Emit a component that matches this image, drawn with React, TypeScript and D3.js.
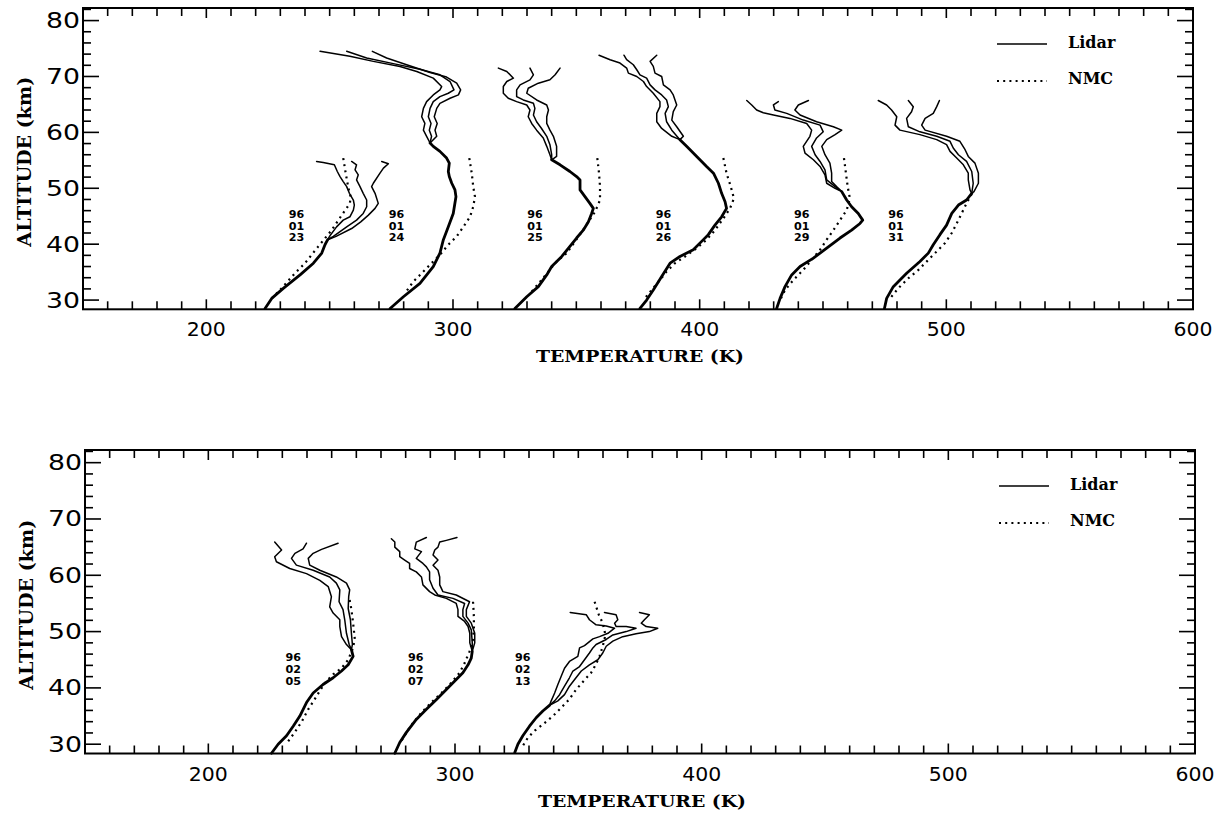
import React from 'react';
import * as d3 from 'd3';

type P = [number, number];

// ---------- axis ticks ----------
const xTickLabels = [200, 300, 400, 500, 600];
const yTickLabels = [30, 40, 50, 60, 70, 80];
const legendNames = ['Lidar', 'NMC'];

// ---------- top panel : 96/01/23 ----------
const low0123: P[] = [[223.8,28.5],[226.5,30.3],[231.2,32.1],[238.0,34.5],[243.4,36.6],[246.8,38.4],[248.1,39.9],[249.2,40.8]];
const left0123: P[] = [[250.4,41.7],[252.8,43.1],[255.5,44.3],[258.2,44.9],[259.6,46.1],[260.0,47.0],[259.6,47.9],[258.0,49.1],[256.9,50.3],[255.5,51.2],[254.2,52.1],[253.1,53.0],[251.9,54.2],[247.4,54.6],[244.7,54.8]];
const mid0123: P[] = [[251.5,41.4],[256.9,43.1],[260.9,44.3],[263.6,45.5],[265.0,46.7],[265.0,47.9],[263.6,49.1],[262.3,50.3],[260.9,51.5],[261.6,52.4],[260.3,53.3],[260.9,54.2],[258.9,54.8]];
const right0123: P[] = [[252.6,41.4],[258.9,42.8],[262.6,44.0],[265.7,45.2],[268.4,46.4],[269.7,47.3],[268.4,49.1],[267.0,50.3],[267.7,50.9],[270.4,52.7],[271.8,53.6],[273.8,54.4],[271.1,54.8]];
const nmc0123: P[] = [[255.5,55.4],[256.5,52.7],[257.6,50.0],[258.5,48.5],[258.2,47.3],[254.9,45.2],[250.8,42.5],[245.4,39.6],[240.0,36.6],[235.9,34.8],[230.5,32.1],[226.5,30.3]];

// 96/01/24
const low0124: P[] = [[274.5,28.5],[279.9,30.6],[286.6,33.0],[292.0,36.0],[294.7,38.4],[296.1,40.8],[298.1,43.1],[300.1,45.5],[301.2,48.5],[300.8,49.7],[299.5,50.9],[298.5,52.1],[298.1,53.0],[298.5,54.5],[297.4,55.4],[294.7,56.6],[292.0,57.5],[290.7,58.1]];
const left0124: P[] = [[289.3,59.3],[288.0,60.4],[288.6,61.6],[287.3,62.8],[288.0,64.3],[289.3,65.5],[292.0,66.7],[294.7,67.6],[295.4,68.2],[292.0,69.7],[285.3,70.9],[278.5,71.8],[267.7,72.7],[258.2,73.6],[246.1,74.5]];
const mid0124: P[] = [[291.3,59.3],[290.4,60.4],[291.1,61.6],[290.0,62.8],[290.7,64.3],[292.0,65.5],[294.7,66.4],[298.1,67.0],[300.4,67.6],[298.8,69.1],[294.7,70.3],[286.6,71.3],[275.8,72.3],[265.0,73.3],[256.9,74.5]];
const right0124: P[] = [[293.4,59.3],[292.7,60.4],[293.6,61.6],[292.4,62.8],[293.4,64.3],[294.7,65.2],[298.8,66.1],[302.2,66.7],[303.1,67.6],[301.5,68.8],[297.4,69.9],[290.7,70.7],[281.2,72.1],[273.1,73.3],[267.3,74.5]];
const nmc0124: P[] = [[306.6,55.4],[307.6,52.7],[308.2,50.3],[308.9,48.5],[308.2,46.7],[306.9,44.9],[304.2,43.1],[301.5,41.4],[298.1,39.9],[294.7,38.1],[291.3,36.6],[287.3,34.8],[283.9,33.3],[280.5,31.2]];

// 96/01/25
const low0125: P[] = [[325.1,28.5],[329.9,30.6],[334.6,32.4],[338.0,34.5],[340.0,36.0],[344.1,37.8],[347.4,39.6],[350.1,41.1],[352.8,42.5],[354.9,44.0],[356.2,45.5],[356.9,46.4],[355.5,47.3],[353.5,48.5],[351.5,49.7],[351.5,51.5],[350.1,52.1],[347.4,53.0],[343.4,54.2],[340.0,55.1]];
const left0125: P[] = [[339.3,56.0],[338.0,57.5],[336.6,59.0],[333.9,60.4],[331.9,61.6],[330.5,62.8],[331.2,64.0],[329.9,64.9],[325.8,65.5],[322.4,66.1],[320.4,67.0],[320.4,68.2],[321.8,69.1],[324.5,69.7],[321.8,70.9],[318.4,71.5]];
const mid0125: P[] = [[340.0,56.0],[339.3,57.8],[338.0,59.3],[335.9,60.7],[333.9,61.9],[332.6,63.1],[333.2,64.3],[332.6,65.2],[328.5,65.8],[325.8,66.4],[325.8,67.6],[327.2,68.5],[331.2,69.4],[332.6,70.3],[331.2,71.5]];
const right0125: P[] = [[342.0,55.7],[342.0,57.5],[340.7,59.3],[339.3,60.4],[338.0,61.6],[338.0,62.8],[338.7,64.0],[338.0,64.9],[333.9,65.8],[329.9,67.0],[330.5,67.9],[334.6,68.8],[339.3,69.4],[341.4,70.3],[343.4,71.5]];
const nmc0125: P[] = [[358.5,55.4],[359.2,52.7],[359.6,50.3],[359.6,47.9],[357.6,45.8],[354.9,44.0],[352.2,42.2],[349.5,40.5],[346.1,38.4],[342.0,36.9],[338.7,35.1],[335.3,33.3],[331.9,31.5]];

// 96/01/26
const low0126: P[] = [[375.8,28.5],[378.5,30.0],[381.2,31.8],[384.6,34.2],[388.0,36.6],[392.0,37.8],[397.4,39.0],[400.8,40.5],[403.5,41.7],[406.2,43.4],[408.9,44.9],[410.9,46.4],[410.3,47.6],[408.9,49.1],[407.6,50.9],[405.6,52.7],[402.8,53.9],[398.8,55.7],[394.7,57.5],[392.0,58.7]];
const left0126: P[] = [[388.7,59.3],[384.6,60.7],[382.6,61.9],[382.6,63.4],[383.9,64.6],[383.9,65.5],[381.2,67.0],[378.5,68.2],[377.2,69.1],[374.5,70.0],[371.1,70.6],[370.4,71.5],[367.7,72.4],[363.7,73.0],[359.2,73.8]];
const mid0126: P[] = [[388.7,60.4],[386.6,61.9],[386.0,63.4],[387.3,64.6],[386.6,65.8],[384.6,66.7],[381.9,67.6],[379.9,68.5],[378.5,69.7],[375.8,70.3],[374.5,71.2],[373.1,72.1],[370.4,73.0],[369.3,73.8]];
const right0126: P[] = [[393.4,59.3],[390.7,61.0],[388.7,62.2],[389.3,63.7],[390.7,64.9],[389.3,66.7],[388.0,67.6],[385.3,68.5],[384.6,70.0],[381.9,70.6],[381.2,71.8],[379.9,72.7],[382.6,73.8]];
const nmc0126: P[] = [[409.6,55.4],[410.9,52.7],[412.6,50.3],[413.9,48.2],[412.3,46.4],[409.6,44.6],[406.2,42.5],[402.8,40.8],[398.8,39.3],[394.1,37.8],[390.0,36.6],[386.6,35.1],[383.9,33.6],[380.5,31.8],[377.2,30.0]];

// 96/01/29
const low0129: P[] = [[431.2,28.5],[432.6,30.3],[434.6,32.4],[437.3,34.5],[440.7,36.0],[446.1,37.5],[451.5,39.3],[456.9,41.1],[461.6,42.5],[465.0,43.7],[466.1,44.3],[464.3,45.5],[461.6,46.7],[459.6,47.9],[457.6,49.4]];
const left0129: P[] = [[454.9,50.0],[451.5,50.9],[450.8,52.4],[448.8,53.9],[446.1,55.1],[442.7,56.3],[442.0,57.5],[444.7,59.3],[445.4,60.4],[443.4,61.6],[436.6,62.5],[429.9,63.1],[425.8,63.5],[423.1,64.0],[421.1,64.9],[419.1,65.7]];
const mid0129: P[] = [[454.9,50.3],[451.5,51.5],[450.8,53.3],[448.8,54.8],[446.8,56.0],[445.4,57.5],[447.4,59.0],[450.1,60.1],[448.8,61.3],[442.0,62.2],[435.3,63.4],[430.5,64.0],[429.9,64.9],[431.9,65.5]];
const right0129: P[] = [[455.5,50.3],[453.5,51.2],[453.5,52.7],[452.8,54.5],[450.8,56.0],[449.5,57.5],[451.5,58.7],[454.9,59.6],[457.6,60.4],[454.2,61.0],[447.4,61.9],[440.7,63.1],[438.6,64.0],[440.0,64.9],[444.1,65.7]];
const nmc0129: P[] = [[458.5,55.4],[459.3,52.7],[460.0,50.3],[460.9,48.2],[459.6,46.1],[456.9,44.3],[454.2,42.5],[451.5,40.8],[448.8,39.0],[445.4,37.2],[442.0,35.4],[438.0,33.6],[434.6,31.8],[432.6,30.0]];

// 96/01/31
const low0131: P[] = [[474.9,28.5],[475.8,30.3],[478.5,32.4],[483.9,34.8],[489.3,36.9],[492.7,38.4],[494.7,39.9],[497.4,41.7],[500.1,43.4],[502.2,45.5],[504.9,47.0],[508.2,47.9],[510.3,49.1]];
const left0131: P[] = [[509.6,49.7],[508.9,51.5],[508.9,52.7],[506.9,54.2],[504.2,55.4],[501.5,56.6],[500.1,57.8],[496.1,58.7],[489.3,59.6],[481.2,60.4],[479.2,61.3],[479.9,62.8],[477.8,64.0],[475.8,64.9],[472.4,65.7]];
const mid0131: P[] = [[510.9,50.9],[510.3,53.0],[508.2,54.8],[504.9,56.0],[502.8,57.2],[501.5,58.4],[496.1,59.3],[489.3,60.1],[484.6,61.0],[483.9,62.5],[485.9,63.7],[486.6,64.6],[484.6,65.7]];
const right0131: P[] = [[511.2,49.4],[513.0,50.9],[513.0,52.7],[511.6,54.5],[508.9,55.7],[507.6,56.9],[505.5,58.4],[500.1,59.3],[491.4,60.4],[490.0,61.3],[491.4,62.5],[494.7,63.4],[496.1,64.6],[497.2,65.7]];
const nmc0131: P[] = [[510.3,49.0],[508.2,47.3],[506.2,45.5],[504.2,43.7],[502.2,42.0],[499.5,40.2],[496.1,38.7],[492.7,37.2],[488.7,35.4],[484.6,33.9],[480.5,32.1],[477.2,30.3]];

// ---------- bottom panel : 96/02/05 ----------
const low0205: P[] = [[225.6,28.4],[228.3,30.0],[231.7,31.5],[234.4,33.2],[237.1,35.0],[239.8,37.4],[242.5,39.1],[246.5,40.6],[250.6,41.8],[254.0,43.0],[256.7,44.1],[258.7,45.6],[258.0,46.8]];
const left0205: P[] = [[256.0,47.7],[254.0,49.1],[253.3,50.9],[253.3,52.1],[250.6,53.3],[249.2,54.4],[249.9,56.2],[248.6,58.0],[245.2,59.1],[239.8,60.3],[233.0,61.2],[227.6,62.4],[226.9,63.3],[229.7,64.5],[226.9,65.9]];
const mid0205: P[] = [[257.1,47.7],[256.0,49.7],[255.3,52.1],[254.6,53.9],[253.0,55.3],[253.3,57.4],[251.9,58.6],[249.2,59.7],[242.5,60.9],[235.7,61.8],[233.7,63.0],[235.1,63.9],[238.4,64.7],[239.8,65.7]];
const right0205: P[] = [[258.4,47.7],[258.0,49.7],[257.6,52.1],[256.7,54.1],[256.9,56.2],[257.3,57.4],[256.0,58.6],[251.9,59.7],[245.2,60.9],[241.1,61.8],[240.5,63.0],[242.5,63.9],[245.9,64.6],[252.6,65.7]];
const nmc0205: P[] = [[257.3,55.6],[258.0,53.9],[258.7,51.5],[259.4,48.6],[258.4,46.8],[256.7,45.0],[254.0,43.5],[250.6,42.4],[247.9,41.2],[245.5,39.7],[243.0,37.9],[240.5,36.2],[238.0,34.1],[235.0,32.1],[232.0,30.3]];

// 96/02/07
const low0207: P[] = [[275.6,28.4],[277.6,30.3],[280.3,32.1],[284.3,34.4],[288.4,36.2],[292.4,37.9],[296.5,39.7],[300.5,41.5],[303.2,42.7],[305.3,44.1],[306.6,45.3],[307.0,46.5]];
const left0207: P[] = [[306.0,48.0],[306.0,49.7],[305.3,50.9],[303.9,51.8],[301.2,52.7],[301.2,53.9],[300.5,55.0],[296.5,55.9],[291.8,56.5],[289.7,57.1],[287.0,58.3],[286.4,59.7],[284.3,60.6],[281.6,61.2],[281.6,62.1],[279.6,62.7],[277.6,63.3],[277.6,64.2],[275.6,65.0],[275.6,65.9],[274.2,66.5]];
const mid0207: P[] = [[307.0,48.0],[306.6,50.3],[305.3,51.5],[303.2,52.7],[303.2,53.9],[303.9,55.0],[299.2,55.9],[293.1,56.5],[291.1,57.7],[289.7,59.2],[289.7,60.6],[288.4,61.5],[287.0,62.1],[284.3,63.0],[286.4,64.2],[283.7,64.7],[284.3,65.9],[288.4,66.7]];
const right0207: P[] = [[308.0,48.0],[308.0,49.7],[306.6,51.5],[304.6,52.7],[304.6,53.9],[305.9,55.3],[300.5,56.5],[295.1,57.1],[293.8,58.3],[293.8,59.7],[293.1,60.9],[291.1,61.8],[293.1,62.7],[291.1,63.6],[291.8,64.5],[293.1,65.0],[293.8,65.9],[296.5,66.2],[300.8,66.7]];
const nmc0207: P[] = [[307.3,55.3],[307.6,53.3],[307.7,50.9],[307.3,48.6],[305.9,46.5],[303.9,44.4],[301.9,42.7],[298.5,40.9],[294.5,39.1],[290.4,37.4],[286.4,35.6],[283.0,33.8],[280.3,32.1],[278.3,30.6]];

// 96/02/13
const low0213: P[] = [[324.2,28.5],[325.5,30.0],[327.5,31.5],[330.2,33.2],[332.9,34.7],[335.6,35.9],[338.3,36.9]];
const left0213: P[] = [[339.0,37.7],[340.4,39.1],[341.7,40.6],[343.1,42.1],[344.4,43.5],[346.4,44.7],[349.8,45.6],[350.5,47.1],[352.5,47.5],[355.9,48.7],[358.6,49.1],[362.0,49.7],[364.7,50.6],[361.3,51.0],[357.2,51.2],[354.5,52.1],[353.2,53.0],[346.7,53.4]];
const mid0213: P[] = [[340.4,37.7],[342.4,38.8],[344.4,40.3],[346.4,41.8],[347.8,43.0],[350.5,43.8],[352.5,45.0],[354.5,46.2],[355.9,47.1],[357.2,47.7],[361.3,48.6],[364.0,49.4],[369.4,50.0],[373.4,50.6],[369.4,50.9],[365.3,50.9],[364.7,51.5],[366.0,52.1],[365.3,53.0],[360.6,53.4]];
const right0213: P[] = [[341.7,37.7],[344.4,38.8],[346.4,40.3],[348.5,41.5],[351.2,43.0],[354.5,44.1],[357.9,45.0],[359.9,46.2],[361.3,47.4],[364.0,48.3],[368.0,49.1],[373.4,49.6],[378.8,50.0],[382.2,50.6],[377.5,50.9],[375.5,51.5],[376.8,52.1],[378.8,53.0],[374.8,53.4]];
const nmc0213: P[] = [[356.6,55.3],[358.3,53.0],[359.9,51.5],[361.0,49.4],[359.9,47.4],[358.6,45.6],[357.0,44.1],[355.2,42.7],[352.5,41.4],[349.1,39.7],[346.2,37.9],[343.1,36.5],[339.7,35.0],[335.6,33.5],[332.3,32.4],[329.6,31.2],[327.5,29.7]];

// ---------- date labels (yy / mm / dd) and their anchor in data units ----------
const datesTop = [['96','01','23'],['96','01','24'],['96','01','25'],['96','01','26'],['96','01','29'],['96','01','31']];
const dateTTop = [236.6, 277.1, 333.2, 385.3, 441.4, 479.6];
const datesBottom = [['96','02','05'],['96','02','07'],['96','02','13']];
const dateTBottom = [234.4, 284.1, 327.5];
const dateAlt = 45.4;

type Profile = { low: P[]; ups: P[][]; nmc: P[] };
const topProfiles: Profile[] = [
  { low: low0123, ups: [left0123, mid0123, right0123], nmc: nmc0123 },
  { low: low0124, ups: [left0124, mid0124, right0124], nmc: nmc0124 },
  { low: low0125, ups: [left0125, mid0125, right0125], nmc: nmc0125 },
  { low: low0126, ups: [left0126, mid0126, right0126], nmc: nmc0126 },
  { low: low0129, ups: [left0129, mid0129, right0129], nmc: nmc0129 },
  { low: low0131, ups: [left0131, mid0131, right0131], nmc: nmc0131 },
];
const bottomProfiles: Profile[] = [
  { low: low0205, ups: [left0205, mid0205, right0205], nmc: nmc0205 },
  { low: low0207, ups: [left0207, mid0207, right0207], nmc: nmc0207 },
  { low: low0213, ups: [left0213, mid0213, right0213], nmc: nmc0213 },
];

const SERIF = '"DejaVu Serif", serif';
const SANS = '"DejaVu Sans", sans-serif';
const DOT = '2 4.2';

function Panel(props: { x0: number; x1: number; yTop: number; yBot: number; profiles: Profile[]; dates: string[][]; dateT: number[] }) {
  const { x0, x1, yTop, yBot, profiles, dates, dateT } = props;
  const x = d3.scaleLinear().domain([150, 600]).range([x0, x1]);
  const y = d3.scaleLinear().domain([28.35, 82.25]).range([yBot, yTop]);
  const line = d3.line<P>().x((d) => x(d[0])).y((d) => y(d[1]));

  const xTicks = d3.range(160, 600, 10);
  const yTicks = d3.range(30, 82.1, 2);
  const midX = (x0 + x1) / 2;

  return (
    <g>
      {xTicks.map((t) => {
        const L = t % 100 === 0 ? 10 : 8;
        return (
          <g key={'xt' + t}>
            <line x1={x(t)} x2={x(t)} y1={yBot} y2={yBot - L} stroke="#000" strokeWidth={1.6} />
            <line x1={x(t)} x2={x(t)} y1={yTop} y2={yTop + L} stroke="#000" strokeWidth={1.6} />
          </g>
        );
      })}
      {yTicks.map((t) => {
        const L = Math.round(t) % 10 === 0 ? 16 : 8;
        return (
          <g key={'yt' + t}>
            <line x1={x0} x2={x0 + L} y1={y(t)} y2={y(t)} stroke="#000" strokeWidth={1.6} />
            <line x1={x1} x2={x1 - L} y1={y(t)} y2={y(t)} stroke="#000" strokeWidth={1.6} />
          </g>
        );
      })}
      <rect x={x0} y={yTop} width={x1 - x0} height={yBot - yTop} fill="none" stroke="#000" strokeWidth={2} />

      {xTickLabels.map((t) => (
        <text key={'xl' + t} x={x(t)} y={yBot + 27} textAnchor="middle" fontFamily={SANS} fontSize={19} textLength={39} lengthAdjust="spacingAndGlyphs">
          {t}
        </text>
      ))}
      {yTickLabels.map((t) => (
        <text key={'yl' + t} x={x0 - 3} y={y(t) + 7.5} textAnchor="end" fontFamily={SANS} fontSize={21} textLength={34} lengthAdjust="spacingAndGlyphs">
          {t}
        </text>
      ))}

      <text x={midX + 2} y={yBot + 53} textAnchor="middle" fontFamily={SERIF} fontWeight="bold" fontSize={17} textLength={208} lengthAdjust="spacingAndGlyphs">
        TEMPERATURE (K)
      </text>
      <text transform={`translate(${x0 - 52},${(yTop + yBot) / 2 + 3}) rotate(-90)`} textAnchor="middle" fontFamily={SERIF} fontWeight="bold" fontSize={18} textLength={170} lengthAdjust="spacingAndGlyphs">
        ALTITUDE (km)
      </text>

      {profiles.map((p, i) => (
        <g key={'p' + i} fill="none" stroke="#000" strokeLinejoin="round" strokeLinecap="round">
          <path d={line(p.nmc) || ''} strokeWidth={2.2} strokeDasharray={DOT} strokeLinecap="butt" />
          <path d={line(p.low) || ''} strokeWidth={2.8} />
          {p.ups.map((u, j) => (
            <path key={j} d={line([p.low[p.low.length - 1], ...u]) || ''} strokeWidth={1.5} />
          ))}
        </g>
      ))}

      {dates.map((d, i) =>
        d.map((s, k) => (
          <text key={'d' + i + k} x={x(dateT[i])} y={y(dateAlt) + 4 + k * 11.6} textAnchor="middle" fontFamily={SANS} fontWeight="bold" fontSize={11} textLength={15.5} lengthAdjust="spacingAndGlyphs">
            {s}
          </text>
        ))
      )}

      <line x1={x0 + 914} x2={x0 + 964} y1={yTop + 36} y2={yTop + 36} stroke="#000" strokeWidth={1.6} />
      <line x1={x0 + 914} x2={x0 + 964} y1={yTop + 73} y2={yTop + 73} stroke="#000" strokeWidth={2} strokeDasharray={DOT} />
      <text x={x0 + 985} y={yTop + 40} fontFamily={SERIF} fontWeight="bold" fontSize={16}>{legendNames[0]}</text>
      <text x={x0 + 985} y={yTop + 76} fontFamily={SERIF} fontWeight="bold" fontSize={16}>{legendNames[1]}</text>
    </g>
  );
}

export default function App() {
  return (
    <svg width={1227} height={818} style={{ position: 'absolute', left: 0, top: 0, background: '#fff' }}>
      <rect x={0} y={0} width={1227} height={818} fill="#fff" />
      <Panel x0={83} x1={1193} yTop={8} yBot={309.3} profiles={topProfiles} dates={datesTop} dateT={dateTTop} />
      <Panel x0={85} x1={1195} yTop={450} yBot={753.5} profiles={bottomProfiles} dates={datesBottom} dateT={dateTBottom} />
    </svg>
  );
}
